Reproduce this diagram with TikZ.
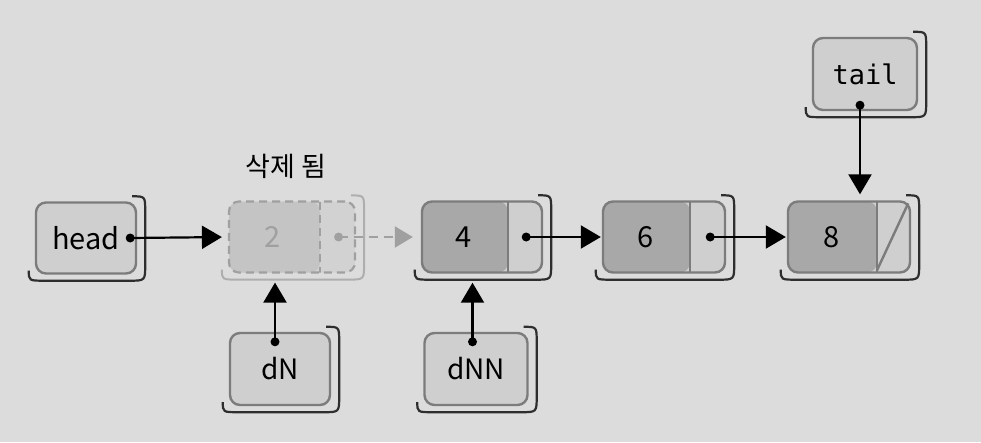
\documentclass[tikz,border=0pt]{standalone}
\usepackage{fontspec}
\setmainfont{Noto Sans CJK KR}
\newfontfamily\monofnt{DejaVu Sans Mono}
\usetikzlibrary{arrows.meta,calc}
\definecolor{bgc}{HTML}{DCDCDC}
\definecolor{fillc}{HTML}{CFCFCF}
\definecolor{datac}{HTML}{A8A8A8}
\definecolor{ptrc}{HTML}{CFCFCF}
\definecolor{borderc}{HTML}{7C7C7C}
\definecolor{shadec}{HTML}{2E2E2E}
\definecolor{ghost}{HTML}{A0A0A0}
\definecolor{ghostdata}{HTML}{C4C4C4}
\definecolor{ghostptr}{HTML}{D2D2D2}
\newcommand\drawshade[2][shadeline]{%
  \draw[#1] ($(#2.south west)+(-6,-4)$) .. controls ($(#2.south west)+(-6,6)$) .. ($(#2.south west)+(10,6)$)
    -- ($(#2.south east)+(-8,6)$) .. controls ($(#2.south east)+(8,6)$) .. ($(#2.south east)+(8,-10)$)
    -- ($(#2.north east)+(8,10)$) .. controls ($(#2.north east)+(8,-5)$) .. ($(#2.north east)+(-5,-5)$);}
\begin{document}
\begin{tikzpicture}[x=1pt,y=-1pt,
  shadeline/.style={draw=shadec,line width=2.2pt},
  ghostshade/.style={draw=ghost!85,line width=2pt},
  boxbase/.style={draw=borderc,line width=2.4pt,rounded corners=10pt,fill=fillc,inner sep=0pt,minimum height=71pt},
  listnode/.style={boxbase,fill=ptrc,minimum width=120pt,
    path picture={\fill[datac] (path picture bounding box.north west) rectangle ([xshift=#1]path picture bounding box.south west);
      \draw[borderc,line width=2.4pt] ([xshift=#1]path picture bounding box.north west) -- ([xshift=#1]path picture bounding box.south west);}},
  ghostnode/.style={draw=ghost,line width=2.2pt,dash pattern=on 8pt off 5pt,rounded corners=10pt,fill=ghostptr,inner sep=0pt,minimum height=71pt,minimum width=126pt,
    path picture={\fill[ghostdata] (path picture bounding box.north west) rectangle ([xshift=#1]path picture bounding box.south west);
      \draw[ghost,line width=2.2pt,dash pattern=on 8pt off 5pt] ([xshift=#1]path picture bounding box.north west) -- ([xshift=#1]path picture bounding box.south west);}},
  txt/.style={font=\fontsize{29}{32}\selectfont,text=black,inner sep=0pt},
  link/.style={line width=2.2pt,-{Triangle[length=20pt,width=23pt]}},
  ghostlink/.style={draw=ghost,line width=2.2pt,dash pattern=on 9pt off 6pt,-{Triangle[length=18pt,width=21pt]},ghost},
  dot/.style={fill=black}]
\fill[bgc] (0,0) rectangle (981,442);
\useasboundingbox (0,0) rectangle (981,442);
% boxes
\node[boxbase,minimum width=100pt] (head) at (86,238) {};
\node[ghostnode=91pt] (n2) at (292,237) {};
\node[listnode=86pt] (n4) at (482,237) {};
\node[listnode=87pt,minimum width=122pt] (n6) at (664,237) {};
\node[listnode=89pt,minimum width=122pt] (n8) at (849,237) {};
\node[boxbase,minimum width=100pt,minimum height=72pt] (dN) at (280,369) {};
\node[boxbase,minimum width=103pt,minimum height=72pt] (dNN) at (476,369) {};
\node[boxbase,minimum width=104pt,minimum height=72pt] (tail) at (865,74) {};
\drawshade{head}
\drawshade[ghostshade]{n2}
\drawshade{n4}
\drawshade{n6}
\drawshade{n8}
\drawshade{dN}
\drawshade{dNN}
\drawshade{tail}
% slash in last node
\draw[borderc,line width=2.4pt] ($(n8.south west)+(90,-3)$) -- ($(n8.north east)+(-3,3)$);
% texts
\node[txt] (thead) at (head.center) {head};
\node[txt,text=ghost] (t2) at ($(n2.west)+(45,0)$) {2};
\node[txt] (t4) at ($(n4.west)+(43,0)$) {4};
\node[txt] (t6) at ($(n6.west)+(44,0)$) {6};
\node[txt] (t8) at ($(n8.west)+(45,0)$) {8};
\node[txt,font=\fontsize{28}{31}\selectfont] (tdN) at (dN.center) {dN};
\node[txt,font=\fontsize{28}{31}\selectfont] (tdNN) at (dNN.center) {dNN};
\node[txt,font=\monofnt\fontsize{27}{30}\selectfont] (ttail) at (tail.center) {tail};
\node[font=\fontsize{27}{30}\selectfont,inner sep=0pt] (lbl) at (286,166) {삭제 됨};
% connector points
\coordinate (hd) at ($(head.east)+(-7,0)$);
\coordinate (d2) at ($(n2.east)+(-17.5,0)$);
\coordinate (d4) at ($(n4.east)+(-17,0)$);
\coordinate (d6) at ($(n6.east)+(-16,0)$);
\coordinate (dt) at ($(tail.south)+(-5,-6)$);
\coordinate (ddn) at ($(dN.north)+(-5,10)$);
\coordinate (ddnn) at ($(dNN.north)+(-3.5,10)$);
% connectors
\draw[link,shorten >=6pt] (hd) -- (n2.west);
\draw[ghostlink,shorten >=8pt] (d2) -- (n4.west);
\draw[link,shorten >=1pt] (d4) -- (n6.west);
\draw[link,shorten >=1pt] (d6) -- (n8.west);
\draw[link,shorten >=6pt] (dt) -- (dt |- n8.north);
\draw[link,shorten >=9pt] (ddn) -- (ddn |- n2.south);
\draw[link,shorten >=9pt] (ddnn) -- (ddnn |- n4.south);
\fill[dot] (hd) circle (4.5pt);
\fill[ghost] (d2) circle (4.5pt);
\fill[dot] (d4) circle (4.5pt);
\fill[dot] (d6) circle (4.5pt);
\fill[dot] (dt) circle (4.5pt);
\fill[dot] (ddn) circle (4.5pt);
\fill[dot] (ddnn) circle (4.5pt);
\end{tikzpicture}
\end{document}
